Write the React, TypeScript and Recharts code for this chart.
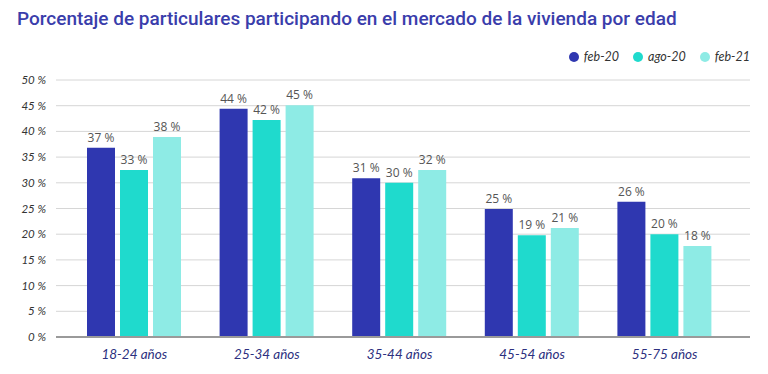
import { BarChart, Bar, XAxis, YAxis, CartesianGrid, LabelList } from 'recharts';

const CATEGORIES = ['18-24 años', '25-34 años', '35-44 años', '45-54 años', '55-75 años'];

// bar heights, labels as printed
const FEB20 = [36.8, 44.4, 30.9, 24.9, 26.3];
const AGO20 = [32.5, 42.2, 30.0, 19.8, 20.0];
const FEB21 = [38.9, 45.1, 32.5, 21.2, 17.7];

const FEB20_LABELS = [37, 44, 31, 25, 26];
const AGO20_LABELS = [33, 42, 30, 19, 20];
const FEB21_LABELS = [38, 45, 32, 21, 18];

const Y_TICKS = [0, 5, 10, 15, 20, 25, 30, 35, 40, 45, 50];

const SERIES = [
    { key: 'feb20', name: 'feb-20', color: '#2f37b0' },
    { key: 'ago20', name: 'ago-20', color: '#1fdacd' },
    { key: 'feb21', name: 'feb-21', color: '#8eebe5' },
];

const chartData = CATEGORIES.map((c, i) => ({
    cat: c,
    feb20: FEB20[i],
    ago20: AGO20[i],
    feb21: FEB21[i],
    feb20Label: `${FEB20_LABELS[i]} %`,
    ago20Label: `${AGO20_LABELS[i]} %`,
    feb21Label: `${FEB21_LABELS[i]} %`,
}));

const TICK_FONT = 'Lato, "Open Sans", sans-serif';

// plain svg text so the label does not wrap to the bar width
const renderLabel = (props: any) => {
    const { x, y, width, value } = props;
    return (
        <text x={x + width / 2} y={y - 6} textAnchor="middle" fill="#555" fontSize={12}
            fontFamily='"Open Sans", sans-serif'>
            {value}
        </text>
    );
};

export default function App() {
    return (
        <div style={{ position: 'absolute', left: 0, top: 0, width: 768, height: 374, background: '#fff', fontFamily: TICK_FONT }}>
            <div style={{
                position: 'absolute', left: 17, top: 7, fontFamily: 'Roboto, sans-serif', fontSize: 19,
                fontWeight: 500, color: '#3a3dab', whiteSpace: 'nowrap',
            }}>
                Porcentaje de particulares participando en el mercado de la vivienda por edad
            </div>

            {/* legend */}
            <div style={{ position: 'absolute', right: 18, top: 49, display: 'flex', gap: 14, alignItems: 'center' }}>
                {SERIES.map(s => (
                    <div key={s.key} style={{ display: 'flex', alignItems: 'center', gap: 5 }}>
                        <span style={{ width: 10, height: 10, borderRadius: 5, background: s.color, display: 'inline-block' }} />
                        <span style={{ fontStyle: 'italic', fontSize: 12.5, color: '#333' }}>{s.name}</span>
                    </div>
                ))}
            </div>

            <div style={{ position: 'absolute', left: 0, top: 0 }}>
                <BarChart
                    width={768}
                    height={374}
                    data={chartData}
                    margin={{ top: 80, right: 18, bottom: 7, left: 0 }}
                    barGap={5}
                    barSize={28}
                >
                    <CartesianGrid vertical={false} stroke="#d6d6d6" />
                    <XAxis
                        dataKey="cat"
                        height={30}
                        padding={{ left: 12, right: 19 }}
                        tickLine={false}
                        axisLine={{ stroke: '#9a9a9a', strokeWidth: 2 }}
                        tickMargin={6}
                        tick={{ fill: '#2d3080', fontSize: 13.5, fontStyle: 'italic', fontFamily: TICK_FONT }}
                    />
                    <YAxis
                        width={56}
                        domain={[0, 50]}
                        ticks={Y_TICKS}
                        interval={0}
                        tickLine={false}
                        axisLine={false}
                        tickMargin={4}
                        tickFormatter={(v: number) => `${v} %`}
                        tick={{ fill: '#333', fontSize: 11.5, fontStyle: 'italic', fontFamily: TICK_FONT }}
                    />
                    {SERIES.map(s => (
                        <Bar key={s.key} dataKey={s.key} fill={s.color} isAnimationActive={false}>
                            <LabelList dataKey={`${s.key}Label`} content={renderLabel} />
                        </Bar>
                    ))}
                </BarChart>
            </div>
        </div>
    );
}
